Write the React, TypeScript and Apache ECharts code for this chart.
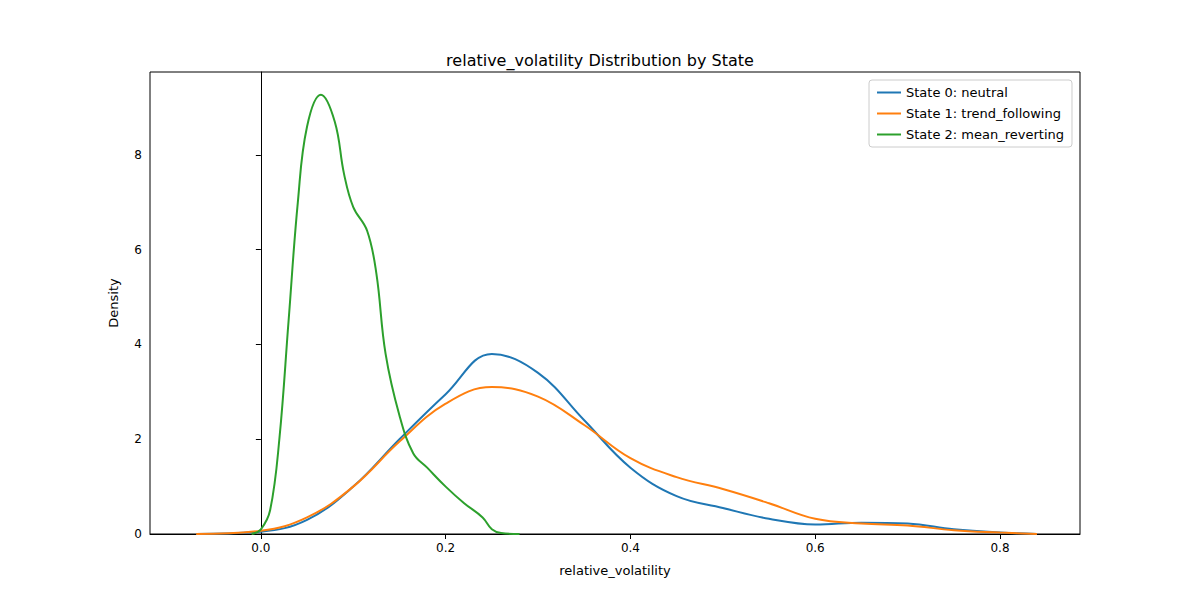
import React, { useEffect, useRef } from "react";
import * as echarts from "echarts";

const xTicks = [0, 0.2, 0.4, 0.6, 0.8];
const yTicks = [0, 2, 4, 6, 8];
const state0: [number, number][] = [
  [-0.07, 0], [0, 0.05], [0.05, 0.3], [0.1, 1.0], [0.15, 2.0], [0.2, 2.95], [0.25, 3.8], [0.3, 3.4],
  [0.35, 2.4], [0.4, 1.4], [0.45, 0.8], [0.5, 0.55], [0.55, 0.32], [0.6, 0.2], [0.65, 0.24],
  [0.7, 0.22], [0.75, 0.1], [0.8, 0.03], [0.84, 0],
];
const state1: [number, number][] = [
  [-0.07, 0], [0, 0.07], [0.05, 0.35], [0.1, 1.0], [0.15, 1.95], [0.2, 2.75], [0.25, 3.1], [0.3, 2.9],
  [0.35, 2.3], [0.4, 1.6], [0.45, 1.2], [0.5, 0.95], [0.55, 0.65], [0.6, 0.32], [0.65, 0.22],
  [0.7, 0.18], [0.75, 0.08], [0.8, 0.03], [0.84, 0],
];
const state2: [number, number][] = [
  [-0.01, 0], [0, 0.1], [0.01, 0.5], [0.02, 2], [0.03, 4.5], [0.04, 7], [0.05, 8.6], [0.065, 9.27],
  [0.08, 8.7], [0.09, 7.6], [0.1, 6.9], [0.115, 6.4], [0.125, 5.5], [0.135, 3.8], [0.15, 2.5],
  [0.165, 1.7], [0.18, 1.4], [0.2, 1.0], [0.22, 0.65], [0.24, 0.35], [0.25, 0.1], [0.26, 0.02], [0.28, 0],
];
const names = ["State 0: neutral", "State 1: trend_following", "State 2: mean_reverting"];
const colors = ["#1f77b4", "#ff7f0e", "#2ca02c"];

export default function App() {
  const ref = useRef<HTMLDivElement>(null);
  useEffect(() => {
    const chart = echarts.init(ref.current!, null, { renderer: "svg" });
    const font = "DejaVu Sans";
    chart.setOption({
      animation: false,
      textStyle: { fontFamily: font },
      title: { text: "relative_volatility Distribution by State", left: "center", top: 47, textStyle: { fontSize: 16, fontWeight: "normal", color: "#000", fontFamily: font } },
      legend: {
        orient: "vertical", right: 128, top: 80, itemWidth: 24, itemHeight: 2, itemGap: 8,
        borderColor: "#ccc", borderWidth: 1, borderRadius: 3, padding: [6, 8],
        icon: "rect", textStyle: { fontSize: 13, color: "#000" }, data: names,
      },
      grid: { left: 150, right: 120, top: 72, bottom: 66, show: true, borderColor: "#000", borderWidth: 1 },
      xAxis: {
        type: "value", min: -0.12, max: 0.8866, name: "relative_volatility", nameLocation: "middle", nameGap: 30,
        nameTextStyle: { fontSize: 13, color: "#000" },
        splitLine: { show: false }, axisLine: { show: true, lineStyle: { color: "#000" } },
        axisTick: { show: true, customValues: xTicks, length: 5, lineStyle: { color: "#000" } },
        axisLabel: { customValues: xTicks, color: "#000", fontSize: 12, formatter: (v: number) => v.toFixed(1) },
      },
      yAxis: {
        type: "value", min: 0, max: 9.75, name: "Density", nameLocation: "middle", nameGap: 30,
        nameTextStyle: { fontSize: 13, color: "#000" },
        splitLine: { show: false }, axisLine: { show: true, lineStyle: { color: "#000" } },
        axisTick: { show: true, customValues: yTicks, length: 5, lineStyle: { color: "#000" } },
        axisLabel: { customValues: yTicks, color: "#000", fontSize: 12 },
      },
      series: [state0, state1, state2].map((d, i) => ({
        name: names[i], type: "line", data: d, smooth: 0.4, showSymbol: false,
        lineStyle: { width: 2, color: colors[i] }, itemStyle: { color: colors[i] },
      })),
    });
    return () => chart.dispose();
  }, []);
  return <div ref={ref} style={{ width: 1200, height: 600, position: "absolute", left: 0, top: 0 }} />;
}
